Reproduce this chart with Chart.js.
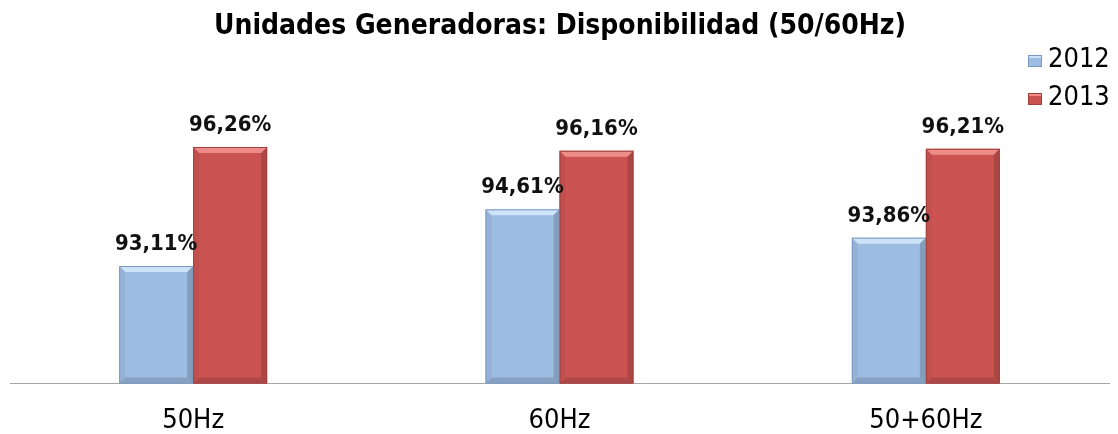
<!DOCTYPE html>
<html>
<head>
<meta charset="utf-8">
<script src="https://cdn.jsdelivr.net/npm/chart.js@4.4.0/dist/chart.umd.min.js"></script>
<style>
  html, body { margin: 0; padding: 0; background: #fff; }
  #wrap { width: 1118px; height: 434px; }
</style>
</head>
<body>
<div id="wrap"><canvas id="barChart" width="1118" height="434"></canvas></div>
<script>
// chart data
const chartTitle = 'Unidades Generadoras: Disponibilidad (50/60Hz)';
const categories = ['50Hz', '60Hz', '50+60Hz'];
const seriesNames = ['2012', '2013'];
const values2012 = [93.11, 94.61, 93.86];
const values2013 = [96.26, 96.16, 96.21];
const yMin = 90;
const yMax = 97;

const FONT = '"DejaVu Sans Condensed", "DejaVu Sans", sans-serif';

function fmtPct(v) {
    return v.toFixed(2).replace('.', ',') + '%';
}

function poly(ctx, pts, color) {
    ctx.beginPath();
    ctx.moveTo(pts[0][0], pts[0][1]);
    for (let i = 1; i < pts.length; i++) ctx.lineTo(pts[i][0], pts[i][1]);
    ctx.closePath();
    ctx.fillStyle = color;
    ctx.fill();
}

// fake excel bevel on each bar
const bevelPlugin = {
    id: 'bevel',
    afterDatasetsDraw(chart) {
        const ctx = chart.ctx;
        const bottom = chart.chartArea.bottom;
        ctx.save();
        chart.data.datasets.forEach((ds, i) => {
            chart.getDatasetMeta(i).data.forEach(bar => {
                const p = bar.getProps(['x', 'y', 'base', 'width'], true);
                const l = p.x - p.width / 2, r = p.x + p.width / 2, t = p.y, b = Math.min(p.base, bottom), s = 6;
                poly(ctx, [[l, t], [r, t], [r - s, t + s], [l + s, t + s]], ds.bevelTop);
                poly(ctx, [[r, t], [r, b], [r - s, b - s], [r - s, t + s]], 'rgba(0,0,0,0.16)');
                poly(ctx, [[l, b], [r, b], [r - s, b - s], [l + s, b - s]], 'rgba(0,0,0,0.14)');
                poly(ctx, [[l, t], [l + s, t + s], [l + s, b - s], [l, b]], 'rgba(0,0,0,0.05)');
                ctx.strokeStyle = ds.edgeColor;
                ctx.lineWidth = 1;
                ctx.strokeRect(l + 0.5, t + 0.5, p.width - 1, b - t - 1);
            });
        });
        ctx.restore();
    }
};

// value labels above bars
const valueLabels = {
    id: 'valueLabels',
    afterDatasetsDraw(chart) {
        const ctx = chart.ctx;
        ctx.save();
        ctx.font = 'bold 22px ' + FONT;
        ctx.fillStyle = '#111';
        ctx.textAlign = 'center';
        ctx.textBaseline = 'alphabetic';
        chart.data.datasets.forEach((ds, i) => {
            chart.getDatasetMeta(i).data.forEach((bar, j) => {
                ctx.fillText(fmtPct(ds.data[j]), bar.x, bar.y - 16);
            });
        });
        ctx.restore();
    }
};

// title + legend drawn by hand
const titleLegend = {
    id: 'titleLegend',
    afterDraw(chart) {
        const ctx = chart.ctx;
        ctx.save();
        ctx.font = 'bold 28px ' + FONT;
        ctx.fillStyle = '#000';
        ctx.textAlign = 'center';
        ctx.textBaseline = 'alphabetic';
        const target = 694;
        const w = ctx.measureText(chartTitle).width;
        const sx = w > target ? target / w : 1;
        ctx.translate(560, 34);
        ctx.scale(sx, 1);
        ctx.fillText(chartTitle, 0, 0);
        ctx.restore();

        ctx.save();
        ctx.font = '27px ' + FONT;
        ctx.textAlign = 'left';
        ctx.textBaseline = 'alphabetic';
        chart.data.datasets.forEach((ds, i) => {
            const baseY = 67 + i * 38;
            ctx.fillStyle = ds.backgroundColor;
            ctx.fillRect(1028, baseY - 12, 14, 12);
            ctx.fillStyle = ds.bevelTop;
            ctx.fillRect(1028, baseY - 12, 14, 3);
            ctx.strokeStyle = ds.edgeColor;
            ctx.strokeRect(1028.5, baseY - 11.5, 13, 11);
            ctx.fillStyle = '#000';
            ctx.fillText(ds.label, 1048, baseY);
        });
        ctx.restore();
    }
};

const ctx = document.getElementById('barChart').getContext('2d');
const barChart = new Chart(ctx, {
    type: 'bar',
    data: {
        labels: categories,
        datasets: [
            {
                label: seriesNames[0],
                data: values2012,
                backgroundColor: '#9DBCE2',
                bevelTop: 'rgba(220,240,255,0.75)',
                edgeColor: '#7C98BE'
            },
            {
                label: seriesNames[1],
                data: values2013,
                backgroundColor: '#CB5452',
                bevelTop: 'rgba(245,150,148,0.85)',
                edgeColor: '#A23F3D'
            }
        ]
    },
    options: {
        responsive: false,
        animation: false,
        layout: {
            padding: { left: 10, right: 9, top: 119, bottom: -24 }
        },
        datasets: {
            bar: { barPercentage: 1.0, categoryPercentage: 0.404 }
        },
        scales: {
            x: {
                grid: { display: false, drawTicks: false },
                border: { display: true, color: '#A6A6A6', width: 1 },
                ticks: {
                    color: '#000',
                    padding: 21,
                    font: { family: FONT, size: 27 }
                }
            },
            y: {
                display: false,
                min: yMin,
                max: yMax
            }
        },
        plugins: {
            legend: { display: false },
            title: { display: false },
            tooltip: { enabled: false }
        }
    },
    plugins: [bevelPlugin, valueLabels, titleLegend]
});
</script>
</body>
</html>
